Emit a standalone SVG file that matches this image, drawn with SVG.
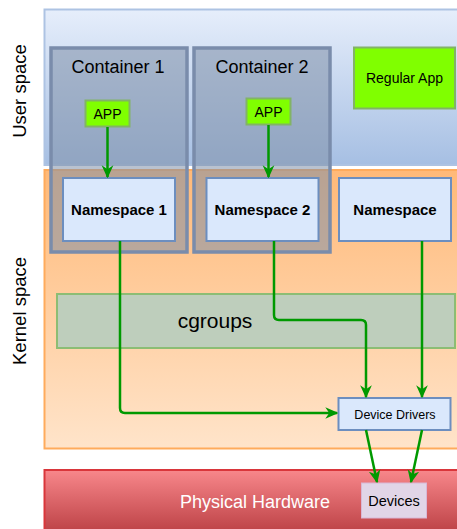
<svg xmlns="http://www.w3.org/2000/svg" width="457" height="529" viewBox="0 0 457 529">
  <defs>
    <linearGradient id="gUser" x1="0" y1="0" x2="0" y2="1">
      <stop offset="0" stop-color="#e6eefb"/>
      <stop offset="1" stop-color="#a6bfe3"/>
    </linearGradient>
    <linearGradient id="gKernel" x1="0" y1="0" x2="0" y2="1">
      <stop offset="0" stop-color="#ffb978"/>
      <stop offset="1" stop-color="#ffe4ca"/>
    </linearGradient>
    <linearGradient id="gHw" x1="0" y1="0" x2="0" y2="1">
      <stop offset="0" stop-color="#f8878b"/>
      <stop offset="1" stop-color="#b5393d"/>
    </linearGradient>
    <marker id="arrow" viewBox="0 0 10 10" refX="9" refY="5" markerWidth="13" markerHeight="13" orient="auto" markerUnits="userSpaceOnUse">
      <path d="M0,0.5 L10,5 L0,9.5 L3,5 Z" fill="#009900"/>
    </marker>
  </defs>
  <style>
    text { font-family: "Liberation Sans", Arial, Helvetica, sans-serif; fill: #000; }
    .side { font-size: 18.5px; }
    .cont { fill: #8090a8; fill-opacity: 0.55; stroke: #7a8cab; stroke-width: 3.5; }
    .ns { fill: #dae8fc; stroke: #6c8ebf; stroke-width: 2; }
    .app { fill: #80ff00; stroke: #82b366; stroke-width: 2; }
    .nslbl { font-size: 15px; font-weight: bold; }
    .conn { fill: none; stroke: #009900; stroke-width: 2.5; stroke-linejoin: round; }
  </style>

  <g id="user-space">
    <rect x="44.5" y="9.5" width="420" height="155.5" fill="url(#gUser)" stroke="#adc3e3" stroke-width="2"/>
    <text class="side" transform="translate(26,91) rotate(-90)" text-anchor="middle">User space</text>
  </g>
  <g id="kernel-space">
    <rect x="44.5" y="170" width="420" height="278.5" fill="url(#gKernel)" stroke="#ffab5c" stroke-width="2"/>
    <text class="side" transform="translate(26,311) rotate(-90)" text-anchor="middle">Kernel space</text>
  </g>
  <g id="physical-hardware">
    <rect x="44.5" y="470" width="420" height="70" fill="url(#gHw)" stroke="#d9363b" stroke-width="2"/>
    <text x="255" y="508" font-size="18" text-anchor="middle" style="fill:#ffffff">Physical Hardware</text>
  </g>

  <g id="cgroups">
    <rect x="57" y="294" width="398" height="54" fill="#becebc" stroke="#8cbd74" stroke-width="2"/>
    <text x="215" y="328" font-size="21" text-anchor="middle">cgroups</text>
  </g>

  <g id="container-1">
    <rect class="cont" x="51" y="48" width="136" height="204"/>
    <text x="118" y="73" font-size="18" text-anchor="middle">Container 1</text>
  </g>
  <g id="container-2">
    <rect class="cont" x="194" y="48" width="136" height="204"/>
    <text x="262" y="73" font-size="18" text-anchor="middle">Container 2</text>
  </g>

  <g id="app-1">
    <rect class="app" x="85.5" y="100.5" width="44" height="26"/>
    <text x="107.5" y="119" font-size="14" text-anchor="middle">APP</text>
  </g>
  <g id="app-2">
    <rect class="app" x="246.5" y="98.5" width="44" height="26"/>
    <text x="268.5" y="116.5" font-size="14" text-anchor="middle">APP</text>
  </g>
  <g id="regular-app">
    <rect class="app" x="354" y="47.5" width="101" height="61"/>
    <text x="404.5" y="83" font-size="14" text-anchor="middle">Regular App</text>
  </g>

  <g id="namespace-1">
    <rect class="ns" x="63" y="178" width="112" height="63"/>
    <text class="nslbl" x="119" y="215" text-anchor="middle">Namespace 1</text>
  </g>
  <g id="namespace-2">
    <rect class="ns" x="206.5" y="178" width="112" height="63"/>
    <text class="nslbl" x="262.5" y="215" text-anchor="middle">Namespace 2</text>
  </g>
  <g id="namespace">
    <rect class="ns" x="339" y="178" width="112" height="63"/>
    <text class="nslbl" x="395" y="215" text-anchor="middle">Namespace</text>
  </g>

  <g id="device-drivers">
    <rect class="ns" x="338.5" y="398" width="112" height="32"/>
    <text x="395" y="419" font-size="12.5" text-anchor="middle">Device Drivers</text>
  </g>
  <g id="devices">
    <rect x="361.5" y="483" width="65" height="35" fill="#e1d5e7" stroke="#d9b8d6" stroke-width="1"/>
    <text x="394" y="506" font-size="14.5" text-anchor="middle">Devices</text>
  </g>

  <g id="connectors">
    <path class="conn" d="M107.5,127 L107.5,177" marker-end="url(#arrow)"/>
    <path class="conn" d="M268.5,125 L268.5,177" marker-end="url(#arrow)"/>
    <path class="conn" d="M120,241 L120,408 Q120,413 125,413 L337,413" marker-end="url(#arrow)"/>
    <path class="conn" d="M274,241 L274,315 Q274,320 279,320 L361,320 Q366,320 366,325 L366,397" marker-end="url(#arrow)"/>
    <path class="conn" d="M422,241 L422,397" marker-end="url(#arrow)"/>
    <path class="conn" d="M366,430 L377,482" marker-end="url(#arrow)"/>
    <path class="conn" d="M422,430 L411,482" marker-end="url(#arrow)"/>
  </g>
</svg>
